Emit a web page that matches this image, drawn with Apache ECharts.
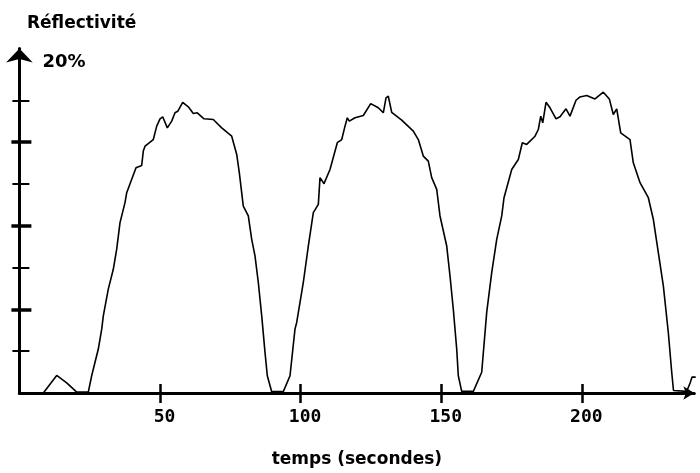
<!DOCTYPE html>
<html>
<head>
<meta charset="utf-8">
<script src="https://cdn.jsdelivr.net/npm/echarts@6/dist/echarts.min.js"></script>
<style>
  html, body { margin: 0; padding: 0; background: #fff; }
  #chart { width: 700px; height: 473px; }
</style>
</head>
<body>
<div id="chart"></div>
<script>
// Reflectivity trace: time in seconds, reflectivity in percent
var times = [0, 8.5, 13.26, 16.82, 20.38, 24.5, 25.7, 28.06, 29.27, 29.84, 31.61, 33.39, 34.6, 35.78, 37.55, 38.16, 39.94, 41.47, 43.49, 44.06, 44.67, 47.62, 48.83, 50.0, 50.96, 52.6, 54.16, 55.33, 56.3, 58.07, 60.06, 61.84, 63.26, 65.65, 68.95, 71.94, 75.5, 77.28, 78.2, 79.62, 81.4, 82.61, 83.78, 84.96, 86.17, 87.34, 88.16, 89.72, 93.85, 96.23, 98.0, 98.61, 100.96, 102.74, 104.52, 106.3, 106.9, 108.32, 110.45, 113.05, 114.62, 115.79, 116.61, 117.32, 119.35, 122.3, 124.93, 127.63, 129.41, 130.37, 131.19, 132.4, 135.95, 140.08, 141.86, 143.63, 145.41, 146.62, 148.4, 149.57, 151.96, 153.13, 154.3, 155.51, 156.08, 157.29, 161.42, 164.4, 166.18, 167.96, 169.74, 171.52, 172.33, 175.07, 177.42, 178.84, 180.4, 183.36, 184.53, 185.39, 186.1, 187.27, 188.69, 190.83, 192.25, 194.38, 195.8, 197.94, 199.36, 201.74, 204.69, 207.65, 209.78, 211.2, 212.41, 213.83, 217.14, 218.31, 220.7, 223.65, 225.43, 227.21, 228.99, 230.76, 231.97, 232.6, 237.3, 238.5, 239.2, 239.9, 240.5];
var reflectivity = [0, 0, 1.05, 0.61, 0.05, 0.05, 1.03, 2.63, 3.82, 4.61, 6.21, 7.40, 8.60, 10.19, 11.39, 11.98, 12.78, 13.47, 13.61, 14.47, 14.76, 15.16, 15.96, 16.40, 16.52, 15.86, 16.26, 16.76, 16.85, 17.39, 17.12, 16.72, 16.76, 16.40, 16.36, 15.86, 15.36, 14.27, 13.18, 11.18, 10.59, 9.19, 8.20, 6.61, 4.61, 2.43, 1.03, 0.08, 0.08, 1.03, 3.82, 4.22, 6.61, 8.79, 10.79, 11.28, 12.88, 12.52, 13.37, 14.97, 15.16, 15.96, 16.46, 16.26, 16.46, 16.60, 17.31, 17.06, 16.76, 17.65, 17.75, 16.79, 16.32, 15.66, 15.16, 14.17, 13.87, 12.88, 12.18, 10.59, 8.79, 7.00, 5.01, 2.63, 1.03, 0.1, 0.1, 1.24, 4.82, 7.20, 9.19, 10.59, 11.68, 13.37, 13.97, 14.97, 14.87, 15.36, 15.76, 16.56, 16.16, 17.39, 17.06, 16.40, 16.52, 17.00, 16.56, 17.51, 17.71, 17.79, 17.59, 17.99, 17.59, 16.66, 17.00, 15.56, 15.16, 13.77, 12.58, 11.68, 10.39, 8.40, 6.41, 3.62, 1.24, 0.15, 0.1, 0.6, 0.95, 1.05, 0.95];

// Axis marks
var xTickValues = [50, 100, 150, 200];
var yMinorTicks = [2.5, 7.5, 12.5, 17.5];
var yMajorTicks = [5, 10, 15];
var yLabelValues = [20];

var points = times.map(function (t, i) { return [t, reflectivity[i]]; });

var X_MAX = 240, Y_MAX = 20.6;
var labelFont = 'DejaVu Sans';
var ink = '#000';

function yAxisLayer(opts) {
  return Object.assign({
    type: 'value', min: 0, max: Y_MAX, position: 'left',
    axisLine: { show: false },
    axisTick: { show: false },
    axisLabel: { show: false },
    splitLine: { show: false }
  }, opts);
}
function xAxisLayer(opts) {
  return Object.assign({
    type: 'value', min: 0, max: X_MAX, position: 'bottom',
    axisLine: { show: false },
    axisTick: { show: false },
    axisLabel: { show: false },
    splitLine: { show: false }
  }, opts);
}

var chart = echarts.init(document.getElementById('chart'), null, { renderer: 'canvas' });
chart.setOption({
  animation: false,
  backgroundColor: '#fff',
  title: {
    text: 'Réflectivité',
    left: 27, top: 15, padding: 0,
    textStyle: { fontFamily: labelFont, fontWeight: 'bold', fontSize: 17, color: ink }
  },
  grid: { left: 19.4, right: 5.7, top: 48.6, bottom: 79.5, containLabel: false },
  xAxis: [
    xAxisLayer({
      axisLine: { show: true, lineStyle: { color: ink, width: 3 }, symbol: ['none', 'arrow'], symbolSize: [10, 11] },
      axisTick: { show: true, inside: false, length: 10, customValues: xTickValues, lineStyle: { color: ink, width: 2.5 } },
      axisLabel: {
        show: true, customValues: xTickValues, margin: 15, padding: [0, 0, 0, 9],
        fontFamily: 'DejaVu Sans Mono', fontWeight: 'bold', fontSize: 18, color: ink
      },
      name: 'temps (secondes)', nameLocation: 'middle', nameGap: 58,
      nameTextStyle: { fontFamily: labelFont, fontWeight: 'bold', fontSize: 17, color: ink }
    }),
    xAxisLayer({
      axisTick: { show: true, inside: true, length: 9, customValues: xTickValues, lineStyle: { color: ink, width: 2.5 } }
    })
  ],
  yAxis: [
    yAxisLayer({
      axisLine: { show: true, lineStyle: { color: ink, width: 3 }, symbol: ['none', 'arrow'], symbolSize: [20, 14] },
      axisTick: { show: true, inside: false, length: 7, customValues: yMinorTicks, lineStyle: { color: ink, width: 2 } },
      axisLabel: {
        show: true, inside: true, customValues: yLabelValues, margin: 23,
        verticalAlign: 'top', lineHeight: 8,
        formatter: '{value}%',
        fontFamily: labelFont, fontWeight: 'bold', fontSize: 18, color: ink
      }
    }),
    yAxisLayer({
      axisTick: { show: true, inside: true, length: 10, customValues: yMinorTicks, lineStyle: { color: ink, width: 2 } }
    }),
    yAxisLayer({
      axisTick: { show: true, inside: false, length: 8, customValues: yMajorTicks, lineStyle: { color: ink, width: 3.5 } }
    }),
    yAxisLayer({
      axisTick: { show: true, inside: true, length: 12, customValues: yMajorTicks, lineStyle: { color: ink, width: 3.5 } }
    })
  ],
  series: [{
    type: 'line',
    xAxisIndex: 0, yAxisIndex: 0,
    data: points,
    showSymbol: false,
    clip: false,
    lineStyle: { color: ink, width: 1.6 }
  }]
});
</script>
</body>
</html>
